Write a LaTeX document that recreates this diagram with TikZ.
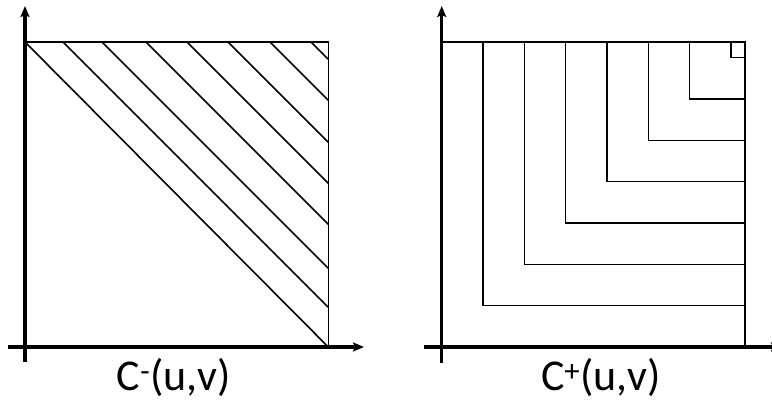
\documentclass[tikz,border=0pt]{standalone}
\usepackage{fontspec}
\setmainfont{Carlito}
\usetikzlibrary{arrows.meta}

\begin{document}
\begin{tikzpicture}[x=1pt, y=-1pt, >={Stealth[length=11pt,width=9pt,inset=2pt]}]
    \tikzstyle{axis} = [draw, ->, line width=3.2pt]
    \tikzstyle{frame} = [draw, line width=1.6pt]
    \tikzstyle{caption} = [font=\fontsize{44}{50}\selectfont, anchor=base]
    \useasboundingbox (0,0) rectangle (772,406);

    % left panel: C^-
    \coordinate (lorig) at (25,347);
    \coordinate (lcorner) at (328.3,42);
    \draw [frame] (lorig |- lcorner) -- (lcorner) -- (lcorner |- lorig);
    \draw [frame] (lorig |- lcorner) -- (lcorner |- lorig);
    \foreach \x in {63,102,146,187,228,270,311}
        \draw [frame] (\x,42) -- (328.3,42+328.3-\x);
    \path [axis] (25,362) -- (25,6);
    \path [axis] (8,347) -- (364,347);
    \node [caption] (lcap) at (174,391) {C\textsuperscript{-}(u,v)};

    % right panel: C^+
    \coordinate (rorig) at (441.7,347);
    \coordinate (rcorner) at (745,42);
    \draw [frame] (rorig |- rcorner) -- (rcorner) -- (rcorner |- rorig);
    \foreach \k in {1,...,7}
        \draw [frame] (441.7+41.33*\k,42) -- (441.7+41.33*\k,347-41.33*\k) -- (745,347-41.33*\k);
    \path [axis] (441.7,363) -- (441.7,6);
    \path [axis] (424,347) -- (782,347);
    \node [caption] (rcap) at (601,391) {C\textsuperscript{+}(u,v)};
\end{tikzpicture}
\end{document}
